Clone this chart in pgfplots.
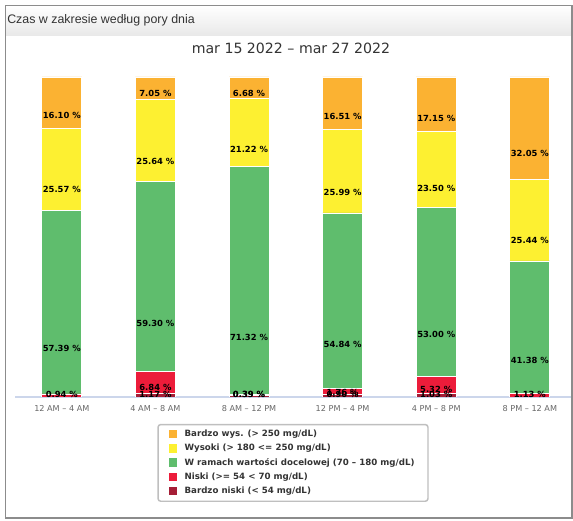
\documentclass[border=0pt]{standalone}
\usepackage{pgfplots}
\pgfplotsset{compat=1.18}
\usepackage{pgfplotstable}
\usepackage{fontspec}
\setmainfont{DejaVu Sans}
\newfontfamily\headfont{Liberation Sans}

\definecolor{vhigh}{HTML}{FBB232}
\definecolor{high}{HTML}{FDF031}
\definecolor{inr}{HTML}{5FBD6D}
\definecolor{low}{HTML}{EC1C3A}
\definecolor{vlow}{HTML}{A51E36}
\definecolor{txt}{HTML}{333333}
\definecolor{ticktxt}{HTML}{666666}
\definecolor{axline}{HTML}{CCD6EB}

% time-in-range shares per time of day (percent)
\pgfplotstableread{
x vlow low inr high vhigh
0 0.00 0.94 57.39 25.57 16.10
1 1.17 6.84 59.30 25.64 7.05
2 0.39 0.39 71.32 21.22 6.68
3 0.90 1.76 54.84 25.99 16.51
4 1.03 5.32 53.00 23.50 17.15
5 0.00 1.13 41.38 25.44 32.05
}\data

\begin{document}
\begin{tikzpicture}[x=0.75pt,y=0.75pt]
\useasboundingbox (0,0) rectangle (573,520);
% panel with header
\shade[top color=white,bottom color=black!9] (5.5,514.5) rectangle (572,484);
\draw[black!45,line width=0.8pt] (5.5,2) rectangle (572,514.5);
\node[anchor=west,text=txt,font=\headfont\fontsize{9.3}{11}\selectfont,inner sep=0pt] at (7,500) {Czas w zakresie według pory dnia};
\node[text=txt,font=\fontsize{10.6}{13}\selectfont] at (291,472) {mar 15 2022 – mar 27 2022};

\begin{axis}[
  at={(11.25pt,92.25pt)}, anchor=south west,
  scale only axis, width=417pt, height=240pt,
  ybar stacked, bar width=30pt,
  xmin=-0.5, xmax=5.44, ymin=0, ymax=100,
  axis x line*=bottom, axis y line=none,
  x axis line style={axline,line width=0.8pt,-},
  xtick=data,
  xticklabels={12 AM – 4 AM,4 AM – 8 AM,8 AM – 12 PM,12 PM – 4 PM,4 PM – 8 PM,8 PM – 12 AM},
  major tick length=0pt,
  xticklabel style={text=ticktxt,font=\fontsize{6.1}{7}\selectfont,yshift=-3pt},
  every axis plot/.append style={draw=white,line width=0.6pt},
  point meta=explicit,
  nodes near coords={\pgfmathprintnumber[fixed,zerofill,precision=2,assume math mode=true]{\pgfplotspointmeta}~\%},
  every node near coord/.append style={anchor=center,font=\bfseries\fontsize{6.3}{7}\selectfont,text=black,inner sep=0pt},
  legend style={at={(0.50,-0.206)},anchor=center,draw=black!25,line width=1.1pt,rounded corners=2pt,
    font=\bfseries\fontsize{6.5}{7.8}\selectfont,text=txt,nodes={inner sep=2.1pt},
    inner xsep=8pt,inner ysep=2pt},
  legend cell align=left,
  reverse legend,
  legend image code/.code={\path[#1,draw=none,sharp corners] (0pt,-3pt) rectangle (6.5pt,3.5pt);
    \path (9.5pt,0pt);},
]
\addplot[fill=vlow,visualization depends on=\thisrow{vlow}\as\val,
  every node near coord/.append style={yshift={(max(\val*1.2,3.5)-\val*2.4)*0.5pt}}]
  table[x=x,y=vlow,meta=vlow]{\data};
\addplot[fill=low,visualization depends on=\thisrow{low}\as\val,
  visualization depends on=\thisrow{vlow}\as\below,
  every node near coord/.append style={yshift={(max((\below+\val/2)*2.4,3.5)-(\below+\val)*2.4)*0.5pt}}]
  table[x=x,y=low,meta=low]{\data};
\addplot[fill=inr,visualization depends on=\thisrow{inr}\as\val,
  every node near coord/.append style={yshift={-\val*0.6pt}}]
  table[x=x,y=inr,meta=inr]{\data};
\addplot[fill=high,visualization depends on=\thisrow{high}\as\val,
  every node near coord/.append style={yshift={-\val*0.6pt}}]
  table[x=x,y=high,meta=high]{\data};
\addplot[fill=vhigh,visualization depends on=\thisrow{vhigh}\as\val,
  every node near coord/.append style={yshift={-\val*0.6pt}}]
  table[x=x,y=vhigh,meta=vhigh]{\data};
\legend{Bardzo niski (< 54 mg/dL),Niski (>= 54 < 70 mg/dL),W ramach wartości docelowej (70 – 180 mg/dL),Wysoki (> 180 <= 250 mg/dL),Bardzo wys. (> 250 mg/dL)}
\end{axis}
\end{tikzpicture}
\end{document}
